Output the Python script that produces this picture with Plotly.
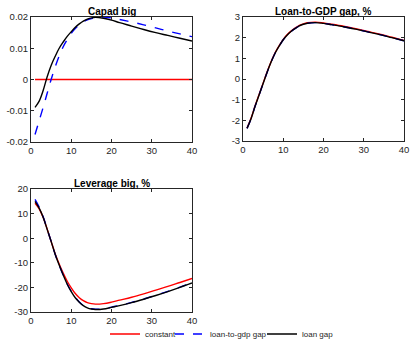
import plotly.graph_objects as go

# ---- data ----
x = [1, 2, 3, 4, 5, 6, 7, 8, 9, 10, 11, 12, 13, 14, 15, 16, 18, 20, 22, 25, 28, 31, 34, 37, 40]

capad_constant = [0.0] * 25
capad_ltg = [-0.0176, -0.0133, -0.0090, -0.0045, 0.0000, 0.0040, 0.0075, 0.0105, 0.0128, 0.0148,
             0.0163, 0.0175, 0.0184, 0.0191, 0.0195, 0.0198, 0.0200, 0.0197, 0.0192, 0.0184,
             0.0175, 0.0165, 0.0155, 0.0146, 0.0137]
capad_loan = [-0.0089, -0.0070, -0.0036, 0.0008, 0.0045, 0.0074, 0.0100, 0.0120, 0.0138, 0.0153,
              0.0167, 0.0178, 0.0187, 0.0193, 0.0197, 0.0199, 0.0196, 0.0190, 0.0182, 0.0171,
              0.0160, 0.0150, 0.0141, 0.0132, 0.0123]

ltg_constant = [-2.37, -1.90, -1.30, -0.75, -0.20, 0.35, 0.85, 1.28, 1.62, 1.92,
                2.15, 2.33, 2.47, 2.59, 2.67, 2.72, 2.75, 2.71, 2.65, 2.55,
                2.43, 2.30, 2.17, 2.02, 1.87]
ltg_ltg = [v - 0.02 for v in ltg_constant]
ltg_loan = [v - 0.02 for v in ltg_constant]

lev_constant = [14.2, 12.0, 8.5, 3.8, -1.3, -6.3, -10.5, -14.2, -17.5, -20.2,
                -22.5, -24.2, -25.4, -26.2, -26.6, -26.8, -26.6, -26.0, -25.2, -24.0,
                -22.6, -21.1, -19.6, -18.0, -16.4]
lev_ltg = [15.8, 12.8, 8.8, 3.8, -1.3, -6.5, -10.9, -15.0, -18.6, -21.6,
           -24.0, -25.9, -27.3, -28.2, -28.7, -28.9, -28.7, -28.0, -27.3, -26.1,
           -24.7, -23.2, -21.6, -19.9, -18.1]
lev_loan = [15.0, 12.3, 8.6, 3.7, -1.3, -6.5, -10.9, -15.0, -18.7, -21.7,
            -24.2, -26.0, -27.4, -28.3, -28.8, -29.0, -28.8, -28.1, -27.4, -26.2,
            -24.8, -23.3, -21.7, -20.0, -18.2]

titles = ["Capad big", "Loan-to-GDP gap, %", "Leverage big, %"]
series_names = ["constant", "loan-to-gdp gap", "loan gap"]
colors = ["#ff0000", "#0000ff", "#000000"]
dashes = ["solid", "dash", "solid"]

panels = [
    (capad_constant, capad_ltg, capad_loan),
    (ltg_constant, ltg_ltg, ltg_loan),
    (lev_constant, lev_ltg, lev_loan),
]

W, H = 410, 339
def px_x(a, b):
    return [a / W, b / W]
def px_y(top, bottom):
    return [1 - bottom / H, 1 - top / H]

domains = [
    (px_x(31, 192), px_y(17, 142)),
    (px_x(243, 404), px_y(17, 141)),
    (px_x(31, 192), px_y(189, 312)),
]
yranges = [[-0.02, 0.02], [-3, 3], [-30, 20]]
ytickvals = [
    [-0.02, -0.01, 0, 0.01, 0.02],
    [-3, -2, -1, 0, 1, 2, 3],
    [-30, -20, -10, 0, 10, 20],
]
yticktext = [
    ["-0.02", "-0.01", "0", "0.01", "0.02"],
    ["-3", "-2", "-1", "0", "1", "2", "3"],
    ["-30", "-20", "-10", "0", "10", "20"],
]

fig = go.Figure()
axcol = "#262626"
font_family = "Liberation Sans, Arial, Helvetica, sans-serif"
legend_ids = ["legend", "legend2", "legend3"]
legend_x = [105, 170, 262]

for i, data in enumerate(panels):
    n = "" if i == 0 else str(i + 1)
    for j in range(3):
        fig.add_trace(go.Scatter(
            x=x, y=data[j], mode="lines", name=series_names[j],
            line=dict(color=colors[j], width=1.4, dash=dashes[j], shape="spline"),
            xaxis="x" + n, yaxis="y" + n, showlegend=(i == 0),
            legend=legend_ids[j],
        ))
    dx, dy = domains[i]
    common = dict(showline=True, mirror="ticks", linecolor=axcol, linewidth=1,
                  ticks="inside", ticklen=3, tickcolor=axcol, showgrid=False,
                  zeroline=False, automargin=False, ticklabeloverflow="allow",
                  tickfont=dict(size=9.5, color=axcol, family=font_family))
    fig.update_layout(**{
        "xaxis" + n: dict(domain=dx, range=[0, 40], tickvals=[0, 10, 20, 30, 40],
                          anchor="y" + n, **common),
        "yaxis" + n: dict(domain=dy, range=yranges[i], tickvals=ytickvals[i],
                          ticktext=yticktext[i], anchor="x" + n, **common),
    })
    fig.add_annotation(text="<b>" + titles[i] + "</b>", xref="paper", yref="paper",
                       x=(dx[0] + dx[1]) / 2, y=dy[1], xanchor="center", yanchor="bottom",
                       showarrow=False,
                       font=dict(size=10, color="#000000", family=font_family), yshift=-2)

legend_common = dict(orientation="h", y=1 - 334 / H, xanchor="left", yanchor="middle",
                     xref="container", yref="container",
                     font=dict(size=8, color=axcol, family=font_family),
                     bgcolor="rgba(0,0,0,0)")
fig.update_layout(
    width=W, height=H,
    margin=dict(l=0, r=0, t=0, b=0, autoexpand=False),
    plot_bgcolor="white", paper_bgcolor="white",
    font=dict(family=font_family, size=9, color=axcol),
    legend=dict(x=legend_x[0] / W, **legend_common),
    legend2=dict(x=legend_x[1] / W, **legend_common),
    legend3=dict(x=legend_x[2] / W, **legend_common),
)

fig.write_html("out.html", config={"displayModeBar": False},
               post_script="document.body.style.margin='0px';document.body.style.overflow='hidden';")
